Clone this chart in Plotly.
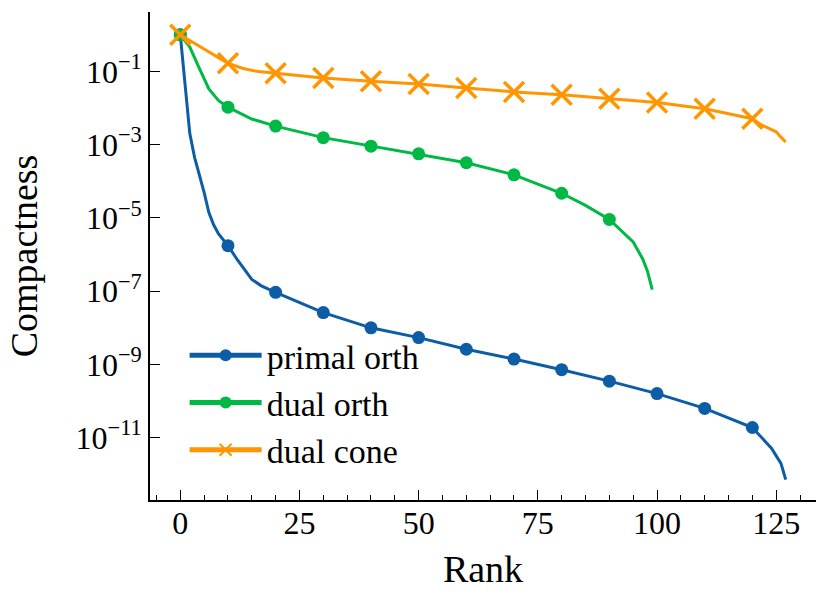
import plotly.graph_objects as go

# ranks and compactness values
primal_rank = [0, 1, 2, 3, 4, 5, 6, 7, 8, 10, 12, 15, 17, 20, 30, 40, 50, 60, 70, 80,
               90, 100, 110, 120, 124, 126, 127]
primal_val = [1.0, 5.0e-2, 2.0e-3, 4.5e-4, 1.6e-4, 5.0e-5, 1.4e-5, 6.5e-6, 3.7e-6, 1.74e-6,
              7.1e-7, 2.1e-7, 1.4e-7, 9.3e-8, 2.6e-8, 1.0e-8, 5.4e-9, 2.6e-9, 1.4e-9, 7.2e-10,
              3.5e-10, 1.6e-10, 6.3e-11, 1.9e-11, 5.2e-12, 2.0e-12, 7.2e-13]

dual_orth_rank = [0, 2, 4, 6, 8, 10, 15, 20, 30, 40, 50, 60, 70, 80, 85, 90, 95, 97, 98, 99]
dual_orth_val = [1.0, 0.46, 0.12, 3.3e-2, 1.6e-2, 1.05e-2, 5.0e-3, 3.2e-3, 1.55e-3, 9.1e-4,
                 5.6e-4, 3.2e-4, 1.5e-4, 4.7e-5, 2.2e-5, 9.1e-6, 2.2e-6, 7.6e-7, 3.5e-7, 1.1e-7]

dual_cone_rank = [0, 10, 13, 16, 20, 30, 40, 50, 60, 70, 80, 90, 100, 110, 120, 122, 125, 126, 127]
dual_cone_val = [1.0, 0.166, 0.122, 0.1, 0.089, 0.066, 0.054, 0.045, 0.035, 0.0275, 0.023,
                 0.0178, 0.0141, 0.0095, 0.0051, 0.0034, 0.00224, 0.0016, 0.00118]

y_tick_vals = [1e-1, 1e-3, 1e-5, 1e-7, 1e-9, 1e-11]
y_tick_text = ["10<sup>−1</sup>", "10<sup>−3</sup>", "10<sup>−5</sup>",
               "10<sup>−7</sup>", "10<sup>−9</sup>", "10<sup>−11</sup>"]

BLUE, GREEN, ORANGE = "#0C5DA5", "#00B945", "#FF9500"
FONT = "Liberation Serif"


def every10(ranks, size):
    # markevery=10 style: marker only on ranks 0, 10, 20, ...
    return [size if r % 10 == 0 else 0 for r in ranks]


fig = go.Figure()

series = [
    ("primal orth", primal_rank, primal_val, BLUE, "circle", 13),
    ("dual orth", dual_orth_rank, dual_orth_val, GREEN, "circle", 13),
    ("dual cone", dual_cone_rank, dual_cone_val, ORANGE, "x-thin", 20),
]

for name, xs, ys, col, sym, sz in series:
    fig.add_trace(go.Scatter(
        x=xs, y=ys, name=name, mode="lines+markers",
        legendgroup=name,
        line=dict(color=col, width=3),
        marker=dict(symbol=sym, size=every10(xs, sz), color=col, opacity=1,
                    line=dict(width=3.5 if sym == "x-thin" else 0, color=col)),
    ))

fig.update_layout(
    width=830, height=599,
    paper_bgcolor="white", plot_bgcolor="white",
    margin=dict(l=150, r=14, t=12, b=99, autoexpand=False),
    font=dict(family=FONT, size=32, color="black"),
    showlegend=True,
    legend=dict(
        x=0.052, y=0.355, xanchor="left", yanchor="top",
        bgcolor="rgba(0,0,0,0)", itemsizing="constant",
        itemwidth=72, traceorder="grouped", tracegroupgap=0,
        font=dict(family=FONT, size=34),
    ),
    xaxis=dict(
        range=[-6.35, 133.35], automargin=False,
        showgrid=False, zeroline=False,
        showline=True, linecolor="black", linewidth=1.6, mirror=False,
        tick0=0, dtick=25, ticks="inside", ticklen=10, tickwidth=1.4,
        tickcolor="black", ticklabelstandoff=-6,
        minor=dict(dtick=5, tick0=0, ticks="inside", ticklen=5,
                   tickwidth=1.2, tickcolor="black", showgrid=False),
        title=dict(text="Rank", standoff=15),
    ),
    yaxis=dict(
        type="log", range=[-12.7, 0.62], automargin=False,
        showgrid=False, zeroline=False,
        showline=True, linecolor="black", linewidth=1.6, mirror=False,
        tickvals=y_tick_vals, ticktext=y_tick_text,
        ticks="inside", ticklen=10, tickwidth=1.4, tickcolor="black",
        ticklabelstandoff=0,
        title=dict(text="Compactness", standoff=26),
    ),
)

# the page's default body margin would push the figure 8px down and right
fig.write_html("out.html", config={"displayModeBar": False},
               post_script="document.body.style.margin='0';")
